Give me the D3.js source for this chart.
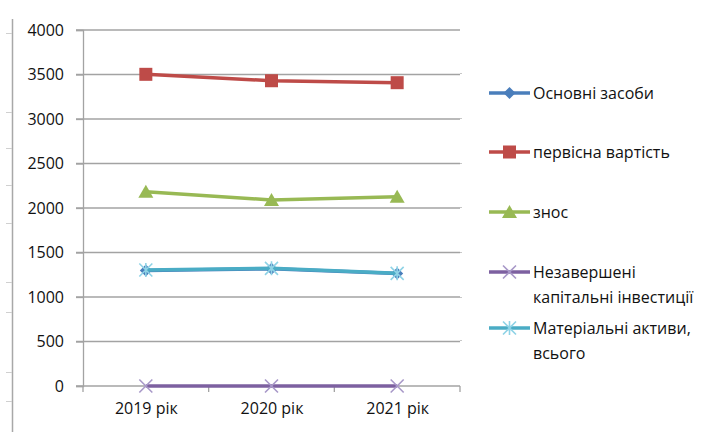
<!DOCTYPE html>
<html><head><meta charset="utf-8">
<script src="https://cdn.jsdelivr.net/npm/d3@7"></script>
<style>body{margin:0;background:#fff}svg{display:block}text{font-family:"Open Sans",sans-serif;fill:#111}</style>
</head><body>
<svg id="c" width="712" height="432"></svg>
<script>
const categories = ["2019 рік", "2020 рік", "2021 рік"];
const seriesNames = ["Основні засоби", "первісна вартість", "знос", "Незавершені капітальні інвестиції", "Матеріальні активи, всього"];
const osnovniZasoby = [1298, 1318, 1264];
const pervisnaVartist = [3502, 3430, 3408];
const znos = [2183, 2090, 2127];
const nezaversheni = [0, 0, 0];
const materialniAktyvy = [1303, 1322, 1266];
const yTicks = [0, 500, 1000, 1500, 2000, 2500, 3000, 3500, 4000];
const colors = ["#4a7ebb", "#be4b48", "#98b954", "#7d60a0", "#4aacc5"];
const markerColors = ["#4a7ebb", "#be4b48", "#98b954", "#a898c8", "#8fd3e6"];
const markers = ["diamond", "square", "triangle", "x", "star"];
const legendLines = [["Основні засоби"], ["первісна вартість"], ["знос"], ["Незавершені", "капітальні інвестиції"], ["Матеріальні активи,", "всього"]];

const series = [osnovniZasoby, pervisnaVartist, znos, nezaversheni, materialniAktyvy];
const svg = d3.select("#c");
const L = 83, R = 460, T = 30, B = 386;
const x = d3.scalePoint().domain(categories).range([L, R]).padding(0.5);
const y = d3.scaleLinear().domain([0, 4000]).range([B, T]);

// decorative page border marks
svg.append("line").attr("x1", 12.5).attr("x2", 12.5).attr("y1", 19).attr("y2", 432).attr("stroke", "#a8a8a8").attr("stroke-width", 1.5);
[33, 112, 148, 185, 223, 282, 312, 372, 401].forEach(v => svg.append("line").attr("x1", 6).attr("x2", 12).attr("y1", v + .5).attr("y2", v + .5).attr("stroke", "#d0d0d0"));
[73, 118, 163, 207, 252, 297, 340].forEach(v => svg.append("line").attr("x1", 460).attr("x2", 462).attr("y1", v + .5).attr("y2", v + .5).attr("stroke", "#c8c8c8"));

// grid
svg.append("g").selectAll("line").data(yTicks).join("line")
  .attr("x1", L - 7).attr("x2", R).attr("y1", d => y(d)).attr("y2", d => y(d))
  .attr("stroke", "#a3a3a3").attr("stroke-width", 1.3);

// y axis
const ya = svg.append("g").attr("transform", `translate(${L},0)`).call(d3.axisLeft(y).tickValues(yTicks).tickFormat(d3.format("d")).tickSize(7).tickPadding(12));
ya.select(".domain").attr("stroke", "#a3a3a3").attr("stroke-width", 1.3);
ya.selectAll(".tick line").attr("stroke", "#a3a3a3").attr("stroke-width", 1.3);
ya.selectAll("text").attr("font-size", 16).attr("font-family", "Open Sans").attr("fill", "#111");

// x axis
const step = x.step();
const xb = svg.append("g").attr("transform", `translate(0,${B})`).call(d3.axisBottom(x).tickSize(0).tickPadding(17));
xb.select(".domain").remove();
xb.selectAll("text").attr("font-size", 16).attr("font-family", "Open Sans").attr("fill", "#111");
const bounds = [0, 1, 2, 3].map(i => L + i * step);
svg.append("g").selectAll("line").data(bounds).join("line")
  .attr("x1", d => d).attr("x2", d => d).attr("y1", B).attr("y2", B + 6).attr("stroke", "#a3a3a3").attr("stroke-width", 1.3);

function marker(g, type, cx, cy, i) {
  const c = markerColors[i];
  if (type === "diamond") g.append("path").attr("d", `M${cx},${cy-6}L${cx+6},${cy}L${cx},${cy+6}L${cx-6},${cy}Z`).attr("fill", c);
  else if (type === "square") g.append("rect").attr("x", cx - 6.5).attr("y", cy - 6.5).attr("width", 13).attr("height", 13).attr("fill", c);
  else if (type === "triangle") g.append("path").attr("d", `M${cx},${cy-7}L${cx+7.5},${cy+6}L${cx-7.5},${cy+6}Z`).attr("fill", c);
  else if (type === "x") g.append("path").attr("d", `M${cx-6.5},${cy-6.5}L${cx+6.5},${cy+6.5}M${cx-6.5},${cy+6.5}L${cx+6.5},${cy-6.5}`).attr("stroke", c).attr("stroke-width", 1.6).attr("fill", "none");
  else if (type === "star") {
    let d = `M${cx-6.5},${cy-6.5}L${cx+6.5},${cy+6.5}M${cx-6.5},${cy+6.5}L${cx+6.5},${cy-6.5}M${cx},${cy-7}L${cx},${cy+7}`;
    g.append("path").attr("d", d).attr("stroke", c).attr("stroke-width", 1.6).attr("fill", "none");
  }
}

const line = d3.line().x((d, j) => x(categories[j])).y(d => y(d));
series.forEach((s, i) => {
  const g = svg.append("g");
  g.append("path").attr("d", line(s)).attr("fill", "none").attr("stroke", colors[i]).attr("stroke-width", 3.5).attr("stroke-linejoin", "round");
  s.forEach((v, j) => marker(g, markers[i], x(categories[j]), y(v), i));
});

// legend
const legY = [93, 152, 212, 272, 328];
legendLines.forEach((lines, i) => {
  const g = svg.append("g");
  const cy = legY[i];
  g.append("line").attr("x1", 489).attr("x2", 530).attr("y1", cy).attr("y2", cy).attr("stroke", colors[i]).attr("stroke-width", 3.5);
  marker(g, markers[i], 509.5, cy, i);
  lines.forEach((t, k) => g.append("text").attr("x", 533).attr("y", cy + k * 25).attr("dy", "0.35em").attr("font-size", 16).text(t));
});
</script>
</body></html>
